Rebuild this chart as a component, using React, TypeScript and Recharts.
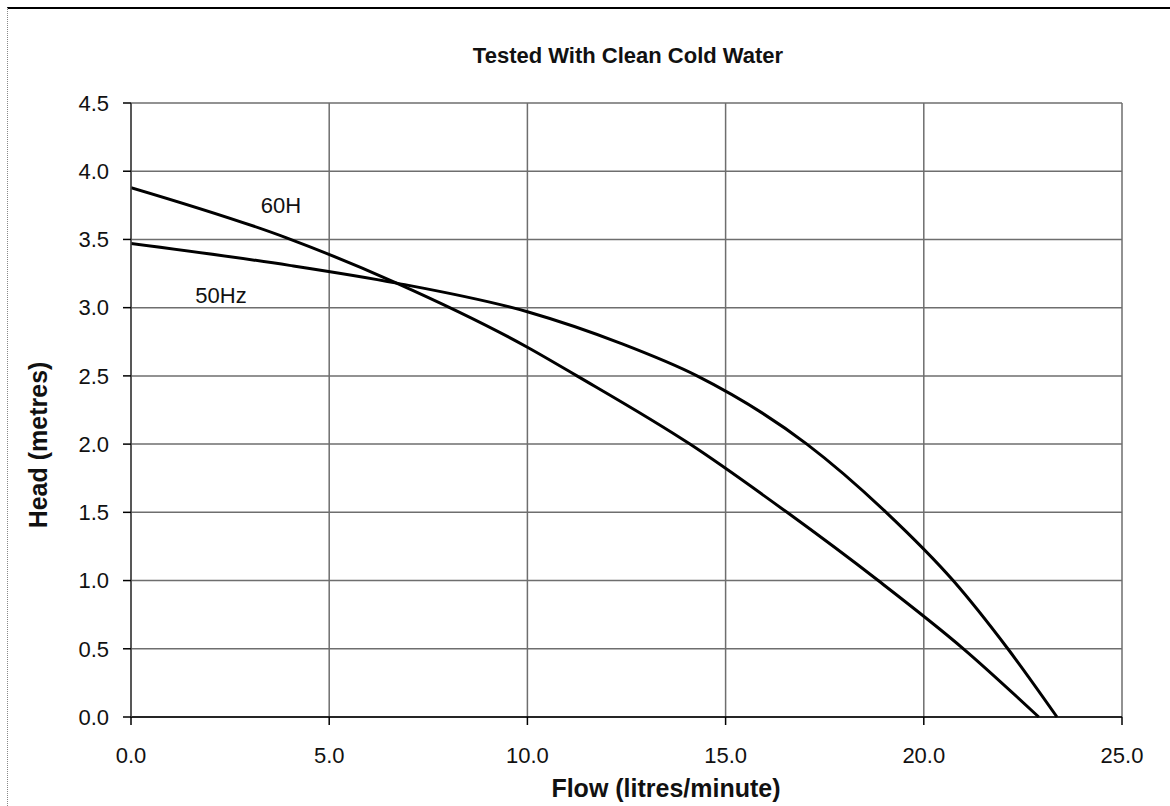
import React from 'react';
import { LineChart, Line, XAxis, YAxis, CartesianGrid, ReferenceDot } from 'recharts';

const flow60 = [0, 3.94, 6.7, 10, 11.25, 14.1, 16.55, 18.85, 21, 22.9];
const head60 = [3.88, 3.51, 3.18, 2.71, 2.5, 2.0, 1.5, 1.0, 0.5, 0];

const flow50 = [0, 4, 6.7, 10, 12.34, 14.28, 17.05, 19.05, 20.74, 22.12, 23.36];
const head50 = [3.47, 3.31, 3.18, 2.97, 2.74, 2.5, 2.0, 1.5, 1.0, 0.5, 0];

const xTicks = [0, 5, 10, 15, 20, 25];
const yTicks = [0, 0.5, 1, 1.5, 2, 2.5, 3, 3.5, 4, 4.5];

const title = 'Tested With Clean Cold Water';
const xTitle = 'Flow (litres/minute)';
const yTitle = 'Head (metres)';
const label60 = { text: '60H', flow: 3.78, head: 3.75 };
const label50 = { text: '50Hz', flow: 2.27, head: 3.09 };

const data60 = flow60.map((f, i) => ({ f, h: head60[i] }));
const data50 = flow50.map((f, i) => ({ f, h: head50[i] }));

const FONT = '"Liberation Sans", Arial, sans-serif';

export default function App() {
  return (
    <div style={{ position: 'absolute', left: 0, top: 0, width: 1170, height: 806, background: '#fff', fontFamily: FONT }}>
      <div style={{ position: 'absolute', left: 7, top: 7, width: 1163, height: 799, borderTop: '2px solid #000', borderLeft: '1px dotted #888', boxSizing: 'border-box' }} />
      <div style={{ position: 'absolute', left: 0, top: 0, width: 1170, height: 806 }}>
        <LineChart width={1170} height={806} margin={{ top: 103, right: 48, bottom: 29, left: 61 }}>
          <CartesianGrid stroke="#6e6e6e" strokeWidth={1.5} horizontalValues={yTicks} verticalValues={xTicks} />
          <XAxis
            type="number"
            dataKey="f"
            domain={[0, 25]}
            ticks={xTicks}
            tickFormatter={(v: number) => v.toFixed(1)}
            axisLine={{ stroke: '#000', strokeWidth: 1.5 }}
            tickLine={{ stroke: '#000', strokeWidth: 1.5 }}
            tickSize={8}
            tickMargin={22}
            height={60}
            tick={{ fill: '#111', fontSize: 22, fontFamily: FONT }}
            allowDataOverflow
          />
          <YAxis
            type="number"
            dataKey="h"
            domain={[0, 4.5]}
            ticks={yTicks}
            tickFormatter={(v: number) => v.toFixed(1)}
            axisLine={{ stroke: '#444', strokeWidth: 1.5 }}
            tickLine={{ stroke: '#000', strokeWidth: 1.5 }}
            tickSize={8}
            tickMargin={14}
            width={70}
            tick={{ fill: '#111', fontSize: 22, fontFamily: FONT }}
          />
          <Line data={data60} dataKey="h" type="monotone" stroke="#000" strokeWidth={3} dot={false} isAnimationActive={false} />
          <Line data={data50} dataKey="h" type="monotone" stroke="#000" strokeWidth={3} dot={false} isAnimationActive={false} />
          <ReferenceDot x={label60.flow} y={label60.head} r={0} stroke="none" fill="none"
            label={{ value: label60.text, position: 'center', fill: '#111', fontSize: 22, fontFamily: FONT }} />
          <ReferenceDot x={label50.flow} y={label50.head} r={0} stroke="none" fill="none"
            label={{ value: label50.text, position: 'center', fill: '#111', fontSize: 22, fontFamily: FONT }} />
        </LineChart>
      </div>
      <svg style={{ position: 'absolute', left: 0, top: 0 }} width={1170} height={806}>
        <text x={628} y={63} textAnchor="middle" fontWeight="bold" fontSize={22} fill="#111" fontFamily={FONT}>{title}</text>
        <text x={666} y={797} textAnchor="middle" fontWeight="bold" fontSize={25} fill="#111" fontFamily={FONT}>{xTitle}</text>
        <text x={0} y={0} transform="translate(47,445) rotate(-90)" textAnchor="middle" fontWeight="bold" fontSize={25} fill="#111" fontFamily={FONT}>{yTitle}</text>
      </svg>
    </div>
  );
}
